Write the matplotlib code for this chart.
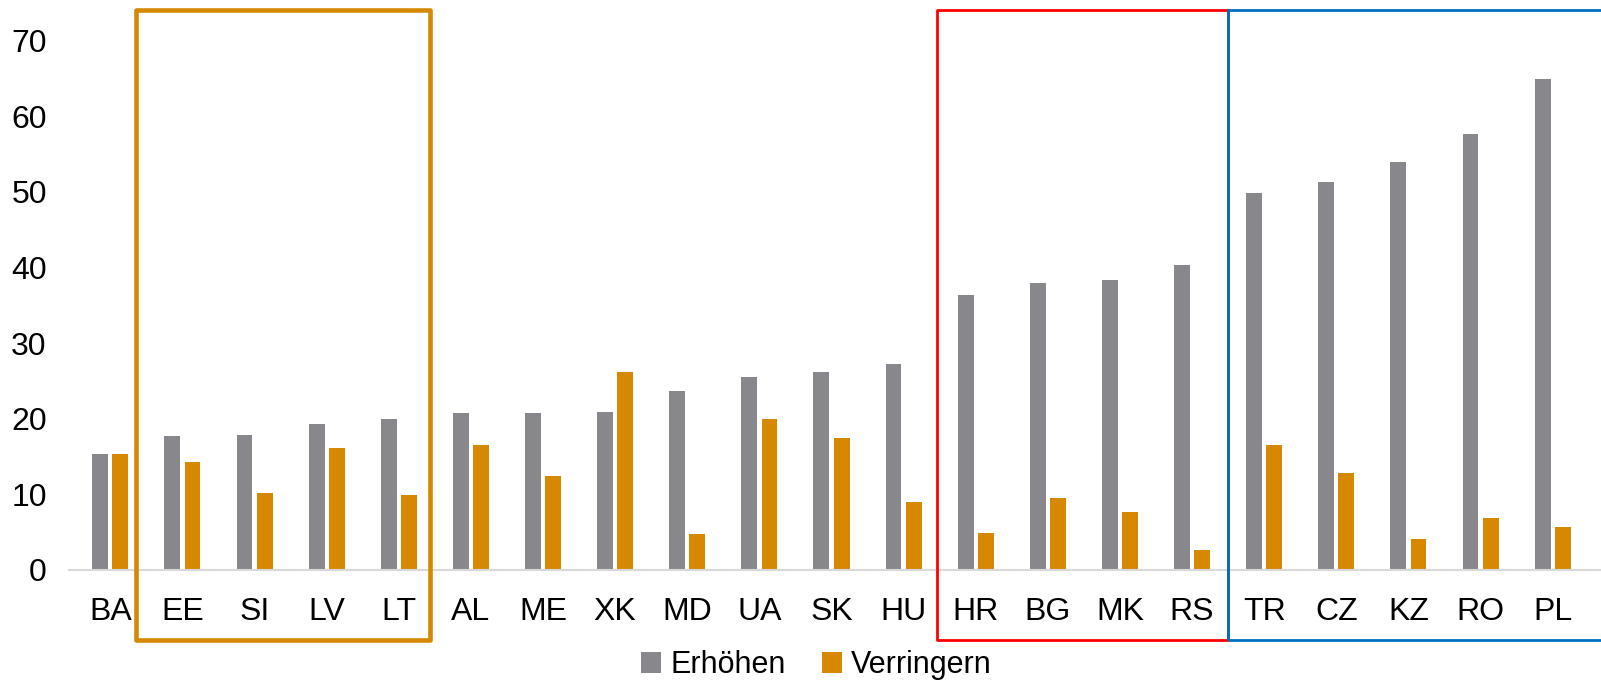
import matplotlib
matplotlib.use("Agg")
import matplotlib.pyplot as plt
from matplotlib.patches import Rectangle
from matplotlib.transforms import blended_transform_factory
import numpy as np

plt.rcParams['font.family'] = ['Liberation Sans', 'DejaVu Sans']

countries = ["BA", "EE", "SI", "LV", "LT", "AL", "ME", "XK", "MD", "UA", "SK",
             "HU", "HR", "BG", "MK", "RS", "TR", "CZ", "KZ", "RO", "PL"]
erhoehen = [15.3, 17.7, 17.8, 19.3, 19.9, 20.7, 20.7, 20.9, 23.6, 25.5, 26.1,
            27.2, 36.4, 37.9, 38.3, 40.3, 49.8, 51.3, 53.9, 57.7, 64.9]
verringern = [15.3, 14.2, 10.1, 16.1, 9.9, 16.5, 12.4, 26.1, 4.7, 19.9, 17.4,
              8.9, 4.8, 9.5, 7.6, 2.6, 16.5, 12.8, 4.1, 6.9, 5.6]
yticks = [0, 10, 20, 30, 40, 50, 60, 70]

grey = "#88878C"
orange = "#D58800"

fig = plt.figure(figsize=(16.01, 6.83), dpi=100)
ax = fig.add_axes([69 / 1601, 113.3 / 683, 1 - 69 / 1601, 528.9 / 683])

x = np.arange(len(countries))
w = 0.22
ax.bar(x - 0.14, erhoehen, w, color=grey, label="Erhöhen", zorder=2)
ax.bar(x + 0.14, verringern, w, color=orange, label="Verringern", zorder=2)

ax.set_xlim(-0.573, 20.67)
ax.set_ylim(0, 70)
ax.set_yticks(yticks)
ax.set_xticks(x)
ax.set_xticklabels(countries)
ax.tick_params(axis="both", length=0, labelsize=23)
ax.tick_params(axis="x", pad=20)
ax.tick_params(axis="y", pad=16)
for s in ["top", "right", "left"]:
    ax.spines[s].set_visible(False)
ax.spines["bottom"].set_color("#D9D9D9")
ax.spines["bottom"].set_linewidth(1.5)

# Group frames: x in category units, y in axes fraction
trans = blended_transform_factory(ax.transData, ax.transAxes)
y0, y1 = -0.133, 1.058
frames = [
    (0.356, 4.43, orange, 3.3),
    (11.46, 15.5, "#FF0000", 2.0),
    (15.5, 21.2, "#0070C0", 2.0),
]
for xa, xb, col, lw in frames:
    r = Rectangle((xa, y0), xb - xa, y1 - y0, transform=trans, fill=False,
                  edgecolor=col, linewidth=lw, joinstyle="round",
                  clip_on=False, zorder=3)
    ax.add_patch(r)

fig.legend(loc="lower center", bbox_to_anchor=(0.51, -0.036), ncol=2,
           frameon=False, fontsize=22, handlelength=0.65, handleheight=0.65,
           handletextpad=0.3, columnspacing=1.2)

fig.savefig("out.png", dpi=100)
